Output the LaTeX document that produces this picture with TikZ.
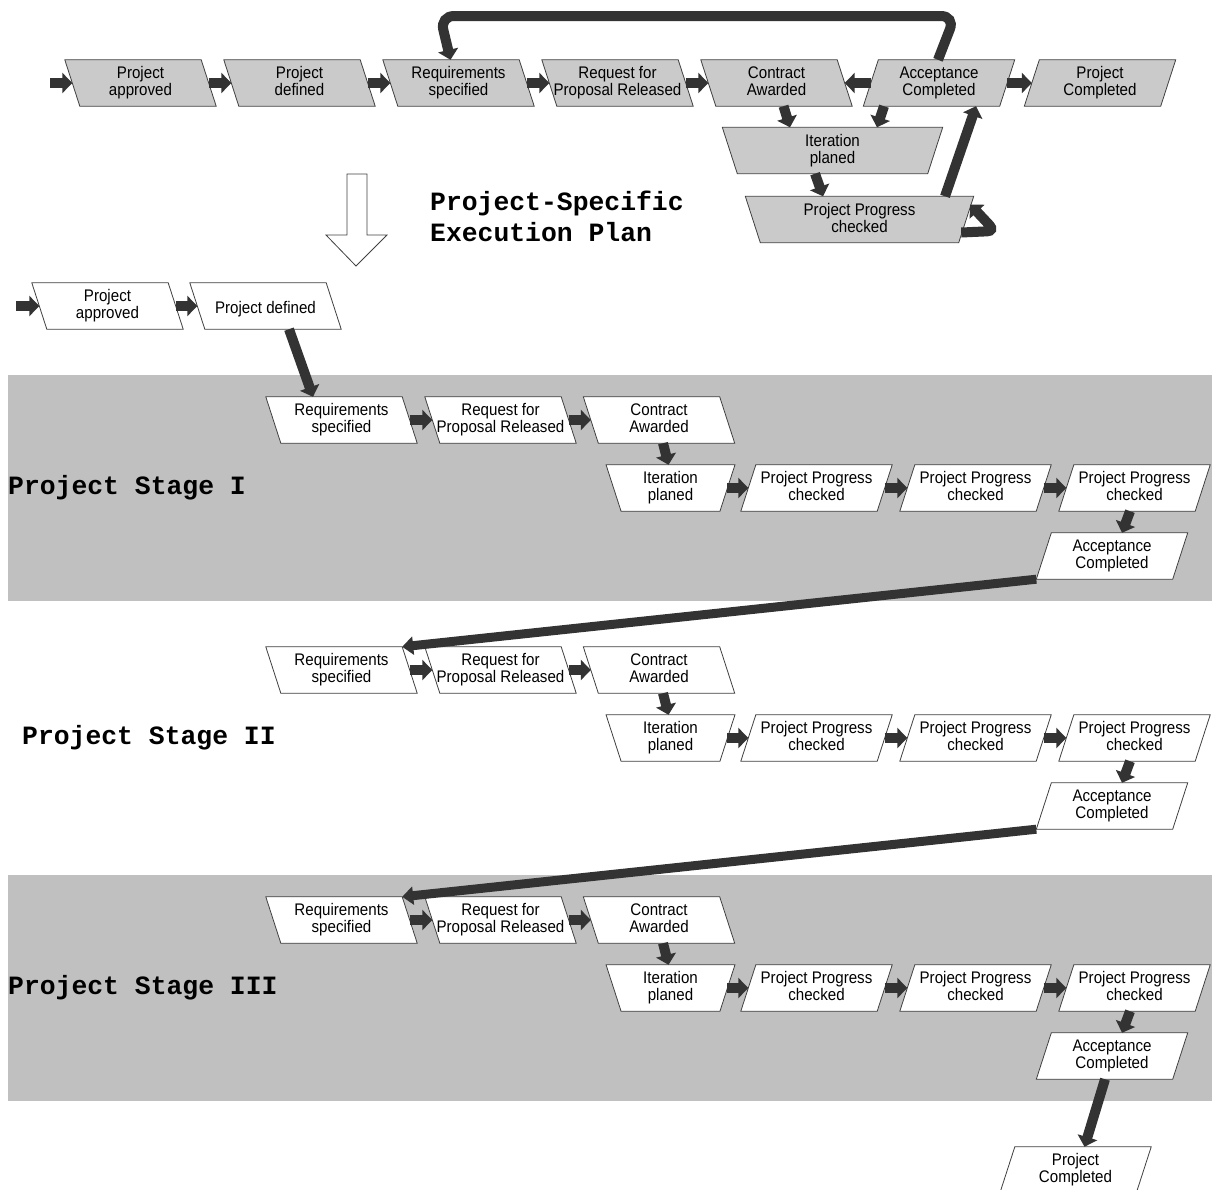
\documentclass[tikz,border=0pt]{standalone}
\usepackage{fontspec}
\setmainfont{Liberation Sans}[FakeStretch=0.9]
\newfontfamily\labelmono{Liberation Mono}
\usetikzlibrary{arrows.meta}

\definecolor{stepgray}{RGB}{202,202,202}
\definecolor{bandgray}{RGB}{192,192,192}
\definecolor{flowdark}{RGB}{51,51,51}
\definecolor{edgegray}{RGB}{64,64,64}

\pgfdeclarelayer{bands}
\pgfdeclarelayer{shapes}
\pgfsetlayers{bands,shapes,main}

% invisible struts that keep every step label on the same baselines
\newcommand\topstrut{\rule{0pt}{18pt}}
\newcommand\botstrut{\rule[-4pt]{0pt}{4pt}}

\tikzset{
  stepbox/.style={rectangle, minimum width=136, minimum height=46, inner sep=0,
    align=center, font=\fontsize{16.8}{17}\selectfont,
    execute at begin node=\topstrut, execute at end node=\botstrut},
  boxline/.style={draw=edgegray, line width=0.8, line join=miter},
  flow/.style={draw=flowdark, line width=10, -{Triangle[length=10pt,width=20pt]}},
  longflow/.style={draw=flowdark, line width=9, -{Triangle[length=11pt,width=18pt]}},
  stagelabel/.style={anchor=west, inner sep=0,
    font=\labelmono\bfseries\fontsize{26.4}{31}\selectfont},
}

% step leaning like "\" : top edge shifted left, bottom edge shifted right
\newcommand\fwdstep[5][]{%
  \node[stepbox,#1] (#2) at (#3) {#5};
  \begin{pgfonlayer}{shapes}
    \draw[boxline, fill=#4] ([xshift=-7.5]#2.north west) -- ([xshift=-7.5]#2.north east)
      -- ([xshift=7.5]#2.south east) -- ([xshift=7.5]#2.south west) -- cycle;
  \end{pgfonlayer}}
% step leaning like "/"
\newcommand\bwdstep[5][]{%
  \node[stepbox,#1] (#2) at (#3) {#5};
  \begin{pgfonlayer}{shapes}
    \draw[boxline, fill=#4] ([xshift=7.5]#2.north west) -- ([xshift=7.5]#2.north east)
      -- ([xshift=-7.5]#2.south east) -- ([xshift=-7.5]#2.south west) -- cycle;
  \end{pgfonlayer}}
% step drawn as a trapezium, wider at the top
\newcommand\trapstep[5][]{%
  \node[stepbox,#1] (#2) at (#3) {#5};
  \begin{pgfonlayer}{shapes}
    \draw[boxline, fill=#4] ([xshift=-7.5]#2.north west) -- ([xshift=7.5]#2.north east)
      -- ([xshift=-7.5]#2.south east) -- ([xshift=7.5]#2.south west) -- cycle;
  \end{pgfonlayer}}

\begin{document}
\begin{tikzpicture}[x=1pt, y=-1pt]
\useasboundingbox (0,0) rectangle (1212,1189);

% ---------- generic process ----------
\fwdstep{t1}{140.5,83}{stepgray}{Project\\approved}
\fwdstep{t2}{299.5,83}{stepgray}{Project\\defined}
\fwdstep{t3}{458.5,83}{stepgray}{Requirements\\specified}
\fwdstep{t4}{617.5,83}{stepgray}{Request for\\Proposal Released}
\fwdstep{t5}{776.5,83}{stepgray}{Contract\\Awarded}
\bwdstep{t6}{939,83}{stepgray}{Acceptance\\Completed}
\bwdstep{t7}{1100,83}{stepgray}{Project\\Completed}
\trapstep[minimum width=205]{ti}{832.5,150.5}{stepgray}{Iteration\\planed}
\trapstep[minimum width=213]{tp}{859.5,219.5}{stepgray}{Project Progress\\checked}

\coordinate (in1) at (50,83);
\draw[flow] (in1) -- (t1.west);
\draw[flow] (t1.east) -- (t2.west);
\draw[flow] (t2.east) -- (t3.west);
\draw[flow] (t3.east) -- (t4.west);
\draw[flow] (t4.east) -- (t5.west);
\draw[flow] (t6.west) -- (t5.east);
\draw[flow] (t6.east) -- (t7.west);
\draw[flow] ([xshift=7]t5.south) -- ([xshift=-42.5]ti.north);
\draw[flow] ([xshift=-55]t6.south) -- ([xshift=44.5]ti.north);
\draw[flow] ([xshift=-17.5]ti.south) -- ([xshift=-36.5]tp.north);
\draw[flow] ([xshift=85.5]tp.north) -- ([xshift=37]t6.south);

\coordinate (loopR) at (955,16);
\coordinate (loopL) at (440,16);
\draw[flow, rounded corners=14] ([xshift=-1]t6.north) -- (loopR) -- (loopL) -- ([xshift=-8]t3.north);

\coordinate (selfR) at (995,231);
\draw[flow, rounded corners=8] ([xshift=-5,yshift=-13]tp.east) -- (selfR) -- ([xshift=4,yshift=15]tp.east);

% hollow arrow towards the specific plan
\draw[edgegray, line width=0.8, fill=white] (347,174) -- (367,174) -- (367,235) -- (387,235)
  -- (356,266) -- (326,235) -- (347,235) -- cycle;
\node[stagelabel, align=left] (plan) at (430,216.5) {Project-Specific\\Execution Plan};

% ---------- project-specific plan ----------
\fwdstep{s1}{107.5,306}{white}{Project\\approved}
\fwdstep{s2}{265.5,306}{white}{Project defined}
\coordinate (in2) at (16,306);
\draw[flow] (in2) -- (s1.west);
\draw[flow] (s1.east) -- (s2.west);

\begin{pgfonlayer}{bands}
  \fill[bandgray] (8,375) rectangle (1212,601);
  \fill[bandgray] (8,875) rectangle (1212,1101);
\end{pgfonlayer}

\node[stagelabel] (lab1) at (8,488) {Project Stage I};
\node[stagelabel] (lab2) at (22,738) {Project Stage II};
\node[stagelabel] (lab3) at (8,988) {Project Stage III};

\foreach \k in {1,2,3}{
  \pgfmathsetmacro\dy{250*(\k-1)}
  \fwdstep{req\k}{341.5,420+\dy}{white}{Requirements\\specified}
  \fwdstep{rfp\k}{500.5,420+\dy}{white}{Request for\\Proposal Released}
  \fwdstep{con\k}{659,420+\dy}{white}{Contract\\Awarded}
  \trapstep[minimum width=113.5]{it\k}{670.5,488+\dy}{white}{Iteration\\planed}
  \bwdstep{ppa\k}{816.5,488+\dy}{white}{Project Progress\\checked}
  \bwdstep{ppb\k}{975.5,488+\dy}{white}{Project Progress\\checked}
  \bwdstep{ppc\k}{1134.5,488+\dy}{white}{Project Progress\\checked}
  \bwdstep{acc\k}{1112,556+\dy}{white}{Acceptance\\Completed}
  \draw[flow] (req\k.east) -- (rfp\k.west);
  \draw[flow] (rfp\k.east) -- (con\k.west);
  \draw[flow] ([xshift=4]con\k.south) -- ([xshift=-2]it\k.north);
  \draw[flow] (it\k.east) -- (ppa\k.west);
  \draw[flow] (ppa\k.east) -- (ppb\k.west);
  \draw[flow] (ppb\k.east) -- (ppc\k.west);
  \draw[flow] ([xshift=-4.5]ppc\k.south) -- ([xshift=10]acc\k.north);
}

\bwdstep{fin}{1075.5,1170}{white}{Project\\Completed}

\draw[flow] ([xshift=23.5]s2.south) -- ([xshift=-28.5]req1.north);
\draw[longflow] ([xshift=-7.5]acc1.south west) -- ([xshift=-7.5]req2.north east);
\draw[longflow] ([xshift=-7.5]acc2.south west) -- ([xshift=-7.5]req3.north east);
\draw[flow] ([xshift=-7]acc3.south) -- ([xshift=9]fin.north);
\end{tikzpicture}
\end{document}
